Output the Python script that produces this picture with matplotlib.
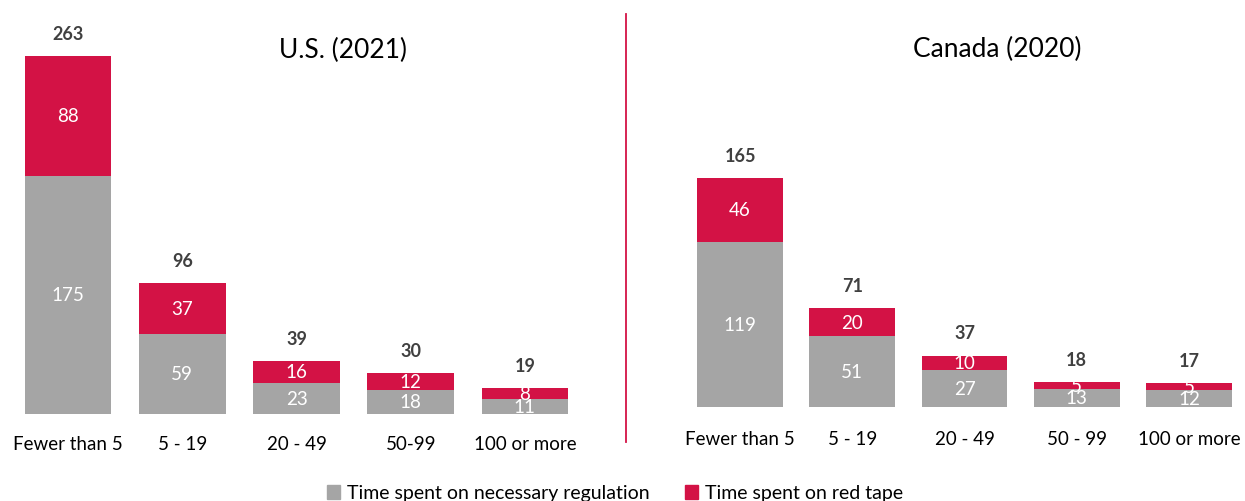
import matplotlib.pyplot as plt
from matplotlib.lines import Line2D
from matplotlib.patches import Patch

plt.rcParams['font.family'] = ['Lato', 'DejaVu Sans']

RED = '#D31245'
GRAY = '#A5A5A5'
DARK = '#404040'

us_cats = ['Fewer than 5', '5 - 19', '20 - 49', '50-99', '100 or more']
us_regulation = [175, 59, 23, 18, 11]
us_red_tape = [88, 37, 16, 12, 8]
us_total = [263, 96, 39, 30, 19]

ca_cats = ['Fewer than 5', '5 - 19', '20 - 49', '50 - 99', '100 or more']
ca_regulation = [119, 51, 27, 13, 12]
ca_red_tape = [46, 20, 10, 5, 5]
ca_total = [165, 71, 37, 18, 17]

W, H = 1245, 502
fig = plt.figure(figsize=(W / 100, H / 100), dpi=100)


def px_axes(left, right, top, bottom):
    # pixel box (from the top-left corner) -> figure fraction
    return [left / W, 1 - bottom / H, (right - left) / W, (bottom - top) / H]


def draw_panel(ax, cats, reg, tape, total, title, title_xy, width, ymax, label_pad):
    x = range(len(cats))
    ax.bar(x, reg, width=width, color=GRAY)
    ax.bar(x, tape, width=width, bottom=reg, color=RED)
    for i in x:
        ax.text(i, reg[i] / 2, str(reg[i]), ha='center', va='center',
                color='white', fontsize=13.5)
        ax.text(i, reg[i] + tape[i] / 2, str(tape[i]), ha='center', va='center',
                color='white', fontsize=13.5)
        ax.annotate(str(total[i]), (i, reg[i] + tape[i]), xytext=(0, 16.5),
                    textcoords='offset points', ha='center', va='center',
                    fontsize=13, fontweight='bold', color=DARK)
    ax.set_xlim(-0.5, len(cats) - 0.5)
    ax.set_ylim(0, ymax)
    ax.set_xticks(list(x))
    ax.set_xticklabels(cats, fontsize=13.5, color='black')
    ax.tick_params(axis='x', length=0, pad=label_pad)
    ax.set_yticks([])
    for s in ax.spines.values():
        s.set_visible(False)
    fig.text(title_xy[0] / W, 1 - title_xy[1] / H, title, ha='center',
             va='center', fontsize=19)


ax_us = fig.add_axes(px_axes(11, 582, 15, 415))
draw_panel(ax_us, us_cats, us_regulation, us_red_tape, us_total,
           'U.S. (2021)', (343, 50), 0.76, 400 / 1.361, 15)

ax_ca = fig.add_axes(px_axes(684, 1245, 15, 408))
draw_panel(ax_ca, ca_cats, ca_regulation, ca_red_tape, ca_total,
           'Canada (2020)', (997, 49), 0.766, 393 / 1.388, 16.5)

# divider between the two countries
fig.add_artist(Line2D([626 / W, 626 / W], [1 - 15 / H, 1 - 443 / H],
                      color=RED, lw=1.3, transform=fig.transFigure))

handles = [Patch(color=GRAY, label='Time spent on necessary regulation'),
           Patch(color=RED, label='Time spent on red tape')]
fig.legend(handles=handles, loc='center', bbox_to_anchor=(615 / W, 1 - 494 / H),
           ncol=2, frameon=False, fontsize=14, handlelength=0.7,
           handleheight=0.7, handletextpad=0.35, columnspacing=1.8)

fig.savefig('out.png', dpi=100)
